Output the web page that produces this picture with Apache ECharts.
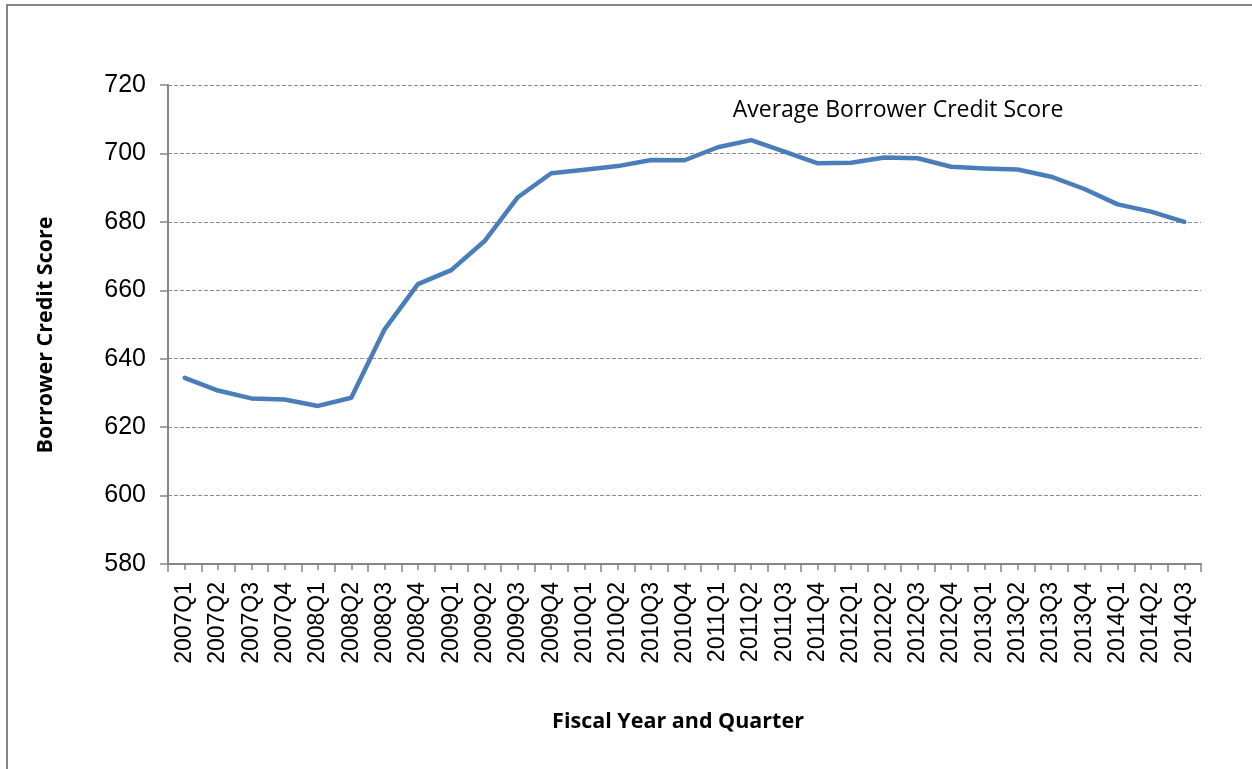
<!DOCTYPE html>
<html><head><meta charset="utf-8">
<script src="https://cdn.jsdelivr.net/npm/echarts@6/dist/echarts.min.js"></script>
<style>html,body{margin:0;padding:0;background:#fff}#c{width:1252px;height:769px}</style>
</head><body><div id="c"></div>
<script>
const categories = ['2007Q1','2007Q2','2007Q3','2007Q4','2008Q1','2008Q2','2008Q3','2008Q4','2009Q1','2009Q2','2009Q3','2009Q4','2010Q1','2010Q2','2010Q3','2010Q4','2011Q1','2011Q2','2011Q3','2011Q4','2012Q1','2012Q2','2012Q3','2012Q4','2013Q1','2013Q2','2013Q3','2013Q4','2014Q1','2014Q2','2014Q3'];
const scores = [634.4,630.7,628.4,628.1,626.2,628.6,648.6,661.8,665.9,674.4,687.2,694.2,695.2,696.3,698.1,698.0,701.8,703.9,700.5,697.1,697.3,698.8,698.6,696.1,695.6,695.3,693.2,689.6,685.1,683.0,680.0];
const yTicks = {min:580, max:720, interval:20};
const seriesName = 'Average Borrower Credit Score';
const xTitle = 'Fiscal Year and Quarter';
const yTitle = 'Borrower Credit Score';

const chart = echarts.init(document.getElementById('c'));
chart.setOption({
  animation:false,
  backgroundColor:'#fff',
  grid:{left:168,right:51,top:85,bottom:205,containLabel:false},
  graphic:[
    {type:'rect',shape:{x:7,y:5,width:1300,height:800},style:{fill:'none',stroke:'#868686',lineWidth:2}},
    {type:'text',x:898,y:110,style:{text:seriesName,font:'23px "Open Sans", sans-serif',fill:'#000',align:'center',verticalAlign:'middle'}},
    {type:'text',x:678,y:722,style:{text:xTitle,font:'bold 21.5px "Open Sans", sans-serif',fill:'#000',align:'center',verticalAlign:'middle'}},
    {type:'text',x:46,y:335,rotation:Math.PI/2,style:{text:yTitle,font:'bold 21.5px "Open Sans", sans-serif',fill:'#000',align:'center',verticalAlign:'middle'}}
  ],
  xAxis:[{
    type:'category',data:categories,boundaryGap:true,
    axisLine:{lineStyle:{color:'#868686',width:2}},
    axisTick:{show:true,interval:0,length:8,lineStyle:{color:'#868686',width:1.5}},
    axisLabel:{interval:0,rotate:90,margin:18,color:'#000',fontSize:23,fontFamily:'Liberation Sans, Arial, sans-serif'},
    splitLine:{show:false}
  },{
    type:'category',data:categories,boundaryGap:true,position:'bottom',
    axisLine:{show:false},
    axisTick:{show:true,interval:0,alignWithLabel:true,length:6,lineStyle:{color:'#868686',width:1.5}},
    axisLabel:{show:false},splitLine:{show:false}
  }],
  yAxis:{
    type:'value',min:yTicks.min,max:yTicks.max,interval:yTicks.interval,
    axisLine:{show:true,lineStyle:{color:'#868686',width:2}},
    axisTick:{show:true,length:8,lineStyle:{color:'#868686',width:1.5}},
    axisLabel:{margin:22,color:'#000',fontSize:25,fontFamily:'Liberation Sans, Arial, sans-serif'},
    splitLine:{show:true,lineStyle:{color:'#8c8c8c',type:[4,2],width:1}}
  },
  series:[{
    name:seriesName,type:'line',data:scores,xAxisIndex:0,
    symbol:'none',smooth:false,
    lineStyle:{color:'#4a7ebb',width:4.5,cap:'round',join:'round'}
  }]
});
</script></body></html>
